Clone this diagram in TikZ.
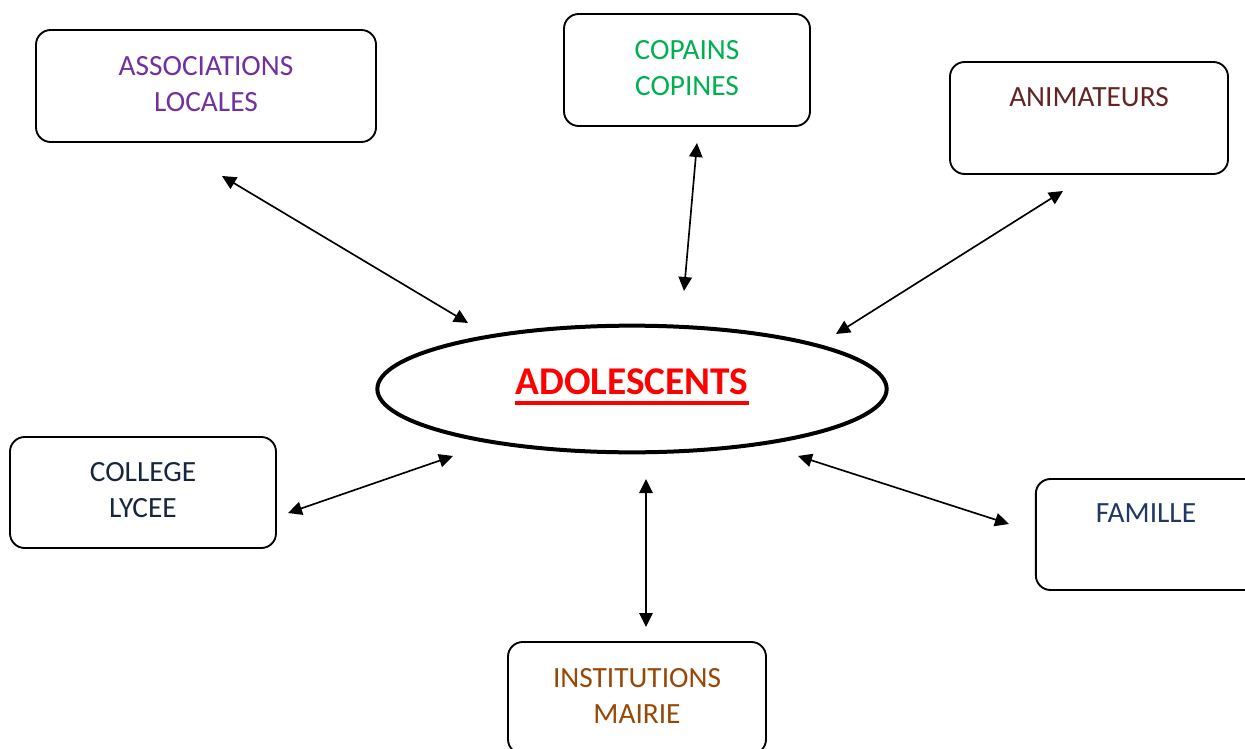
\documentclass[tikz,border=0pt]{standalone}
\usepackage{fontspec}
\setmainfont{Carlito}
\usetikzlibrary{arrows.meta,shapes.geometric}
\definecolor{cpurple}{HTML}{7030A0}
\definecolor{cgreen}{HTML}{00B050}
\definecolor{cdred}{HTML}{632423}
\definecolor{cnavy}{HTML}{1F3864}
\definecolor{cnavyd}{HTML}{17263F}
\definecolor{cbrown}{HTML}{984806}
\definecolor{cred}{HTML}{FF0000}
\tikzset{
  box/.style={draw=black, line width=1.4pt, rounded corners=11pt, inner sep=0pt},
  txt/.style={font=\fontsize{22}{27}\selectfont, align=center, inner sep=0pt},
  link/.style={line width=1.25pt, {Triangle[length=10.5pt,width=10pt]}-{Triangle[length=10.5pt,width=10pt]}},
}
\begin{document}
\begin{tikzpicture}[x=0.75pt,y=-0.75pt]
\useasboundingbox (0,0) rectangle (1245,749);
% boxes
\node[box, minimum width=255pt, minimum height=84pt] (bassoc) at (206,86) {};
\node[box, minimum width=184.5pt, minimum height=84pt] (bcop) at (687,70) {};
\node[box, minimum width=208.5pt, minimum height=84pt] (banim) at (1089,118) {};
\node[box, minimum width=199.5pt, minimum height=83.25pt] (bcoll) at (143,492.5) {};
\node[box, minimum width=172pt, minimum height=83.25pt] (bfam) at (1150.5,534.5) {};
\node[box, minimum width=193.5pt, minimum height=84pt] (binst) at (637,698) {};
% texts
\node[txt, text=cpurple] (tassoc) at (206,84) {ASSOCIATIONS\\LOCALES};
\node[txt, text=cgreen] (tcop) at (687,68) {COPAINS\\COPINES};
\node[txt, text=cdred, anchor=base] (tanim) at (1089,106) {ANIMATEURS};
\node[txt, text=cnavyd] (tcoll) at (143,490) {COLLEGE\\LYCEE};
\node[txt, text=cnavy, anchor=base] (tfam) at (1146,522) {FAMILLE};
\node[txt, text=cbrown] (tinst) at (637,696) {INSTITUTIONS\\MAIRIE};
% center ellipse
\node[ellipse, draw=black, line width=3pt, minimum width=382pt, minimum height=95pt] (ado) at (632,389) {};
\node[anchor=base, text=cred, inner sep=0pt, font=\fontsize{29.5}{33}\selectfont\bfseries] (tado) at (632,394) {ADOLESCENTS};
\draw[cred, line width=2.4pt] (tado.base west) ++(0,-6.75pt) coordinate (ulA) -- (ulA -| tado.base east);
% arrow endpoints
\coordinate (a1) at (222,176); \coordinate (a2) at (468,323);
\coordinate (c1) at (697,143); \coordinate (c2) at (684,291);
\coordinate (n1) at (1063,191); \coordinate (n2) at (836,334);
\coordinate (l1) at (288,513); \coordinate (l2) at (453,456);
\coordinate (i1) at (646,479); \coordinate (i2) at (646,627);
\coordinate (f1) at (798,456); \coordinate (f2) at (1009,524);
\draw[link] (a1) -- (a2);
\draw[link] (c1) -- (c2);
\draw[link] (n1) -- (n2);
\draw[link] (l1) -- (l2);
\draw[link] (i1) -- (i2);
\draw[link] (f1) -- (f2);
\end{tikzpicture}
\end{document}
